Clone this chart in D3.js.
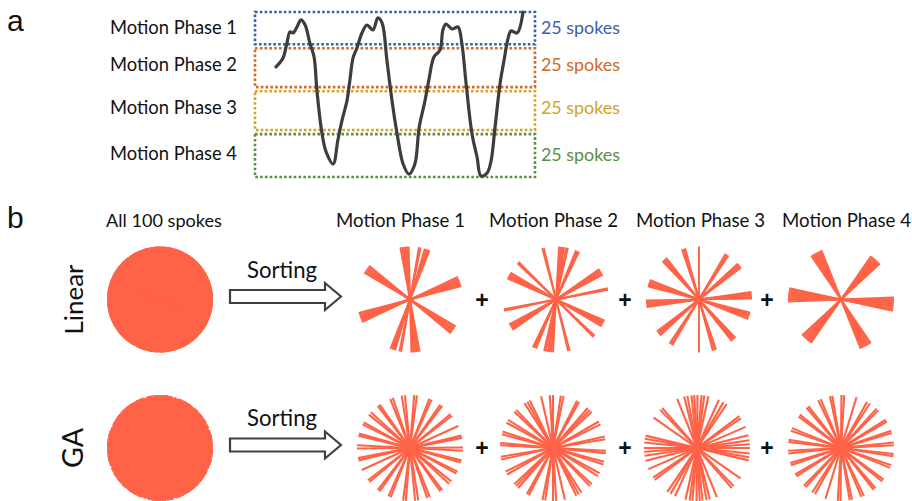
<!DOCTYPE html>
<html>
<head>
<meta charset="utf-8">
<script src="https://cdn.jsdelivr.net/npm/d3@7"></script>
<style>
  html, body { margin: 0; padding: 0; background: #fff; }
  svg { display: block; }
</style>
</head>
<body>
<svg id="fig" width="912" height="501"></svg>
<script>
// ---------- panel a: respiratory trace ----------
const traceTime = [0.75,1.00,1.14,1.25,1.36,1.50,1.64,1.79,1.96,2.11,2.21,2.39,2.54,2.79,2.96,3.11,3.29,3.39,3.50,3.64,3.82,4.00,4.21,4.39,4.54,4.71,4.89,5.07,5.29,5.50,5.71,5.86,6.07,6.21,6.39,6.61,6.71,6.82,7.04,7.25,7.39,7.54,7.75,7.93,8.07,8.29,8.43,8.57,8.75,8.89,9.04,9.14,9.36,9.57];
const traceDisp = [6.67,7.21,8.12,8.79,8.73,9.09,9.52,9.21,8.12,7.27,5.27,2.67,1.52,0.79,2.24,3.45,4.67,5.88,7.21,7.82,8.73,9.21,8.91,9.64,9.33,7.09,4.67,2.67,0.79,0.18,0.79,2.97,4.61,5.88,7.27,7.70,8.91,9.27,8.97,9.09,8.06,5.64,2.61,1.21,0.06,0.24,0.97,2.97,5.64,7.03,8.42,8.85,8.73,10.0];

const phaseNames = ["Motion Phase 1", "Motion Phase 2", "Motion Phase 3", "Motion Phase 4"];
const phaseUpper = [10, 7.8, 5.2, 2.6];
const phaseLower = [8.05, 5.45, 2.85, 0];
const phaseSpokeCounts = [25, 25, 25, 25];
const phaseColors = ["#3A5FAD", "#D2691F", "#D3A22A", "#5E8E3E"];

// ---------- panel b: spoke angles (degrees) per motion phase ----------
const linearPhase1 = [140.5,142.3,144.1,145.9,147.7,149.5, 14.6,16.4,18.2,20.0,21.8,23.6,25.4, 91.5,93.3,95.1,96.9,98.7,100.5, 68.3,70.1,71.9,73.7, 78.5,80.3];
const linearPhase2 = [81.3,83.1,84.9,86.7, 149.4,151.2,153.0,154.8,156.6, 135.0,136.8, 27.9,29.7,31.5,33.3,35.1, 10.6,12.4, 103.2,105.0, 64.2,66.0,67.8, 77.0,78.8];
const linearPhase3 = [0.9,2.7,4.5,6.3,8.1, 158.4,160.2,162.0,163.8,165.6, 37.3,39.1,40.9,42.7, 56.2,58.0,59.8, 90.0, 105.2,107.0,108.8, 128.3,130.1,131.9,133.7];
const linearPhase4 = [167.8,169.6,171.4,173.2,175.0,176.8,178.6,180.4,182.2, 42.7,44.5,46.3,48.1,49.9,51.7,53.5,55.3, 111.7,113.5,115.3,117.1,118.9,120.7,122.5,124.3];

const gaPhase1 = [177,180.5, 11,13.5, 24.5, 37.5,40, 52.5,55, 66,68.5, 82.5,85.5, 95.5,99, 109,112, 125,127.5, 137.5,141, 151,153.5, 164,166.5];
const gaPhase2 = [174.5,177, 162,165, 148,151.5, 134,137, 116,119,122.5, 103, 90,93.5, 78.5,81.5, 60.5,63, 43,46,49, 26.5,30, 9.5,12.5];
const gaPhase3 = [0,4,8.5,14,23.5, 34,37, 56,60,65.5, 77.5,82,85,89.5,93,96,100.5,104, 112, 131,134, 145, 166.5,170,174];
const gaPhase4 = [3,6, 16.5,19, 30,32.5, 45.5,48, 57,60.5, 73, 86.5,89.5, 99.5,102, 112.5,115.5, 128,130.5, 141,143.5, 158,161, 171,173.5];

const orderings = ["Linear", "GA"];
const linearPhases = [linearPhase1, linearPhase2, linearPhase3, linearPhase4];
const gaPhases = [gaPhase1, gaPhase2, gaPhase3, gaPhase4];
const allSpokesTitle = "All 100 spokes";
const sortLabel = "Sorting";

// ---------- layout ----------
const svg = d3.select("#fig");
const spokeColor = "#FF6347";
const lineFont = "Lato, 'Open Sans', sans-serif";

function fitWidth(sel, target) {
  const w = sel.node().getComputedTextLength();
  const fs = parseFloat(sel.attr("font-size"));
  sel.attr("font-size", (fs * target / w).toFixed(2));
  return sel;
}

// panel letters
svg.append("text").attr("x", 7).attr("y", 31).attr("font-family", "'Liberation Sans', Arial, sans-serif")
  .attr("font-size", 30).attr("fill", "#111").text("a");
svg.append("text").attr("x", 7).attr("y", 228).attr("font-family", "'Liberation Sans', Arial, sans-serif")
  .attr("font-size", 30).attr("fill", "#111").text("b");

// trace scales
const tx = d3.scaleLinear().domain([0, 10]).range([255, 535]);
const ty = d3.scaleLinear().domain([0, 10]).range([177, 12]);

const gA = svg.append("g");

// phase boxes
gA.selectAll("rect.phase").data(phaseNames).join("rect")
  .attr("class", "phase")
  .attr("x", tx(0))
  .attr("y", (d, i) => ty(phaseUpper[i]))
  .attr("width", tx(10) - tx(0))
  .attr("height", (d, i) => ty(phaseLower[i]) - ty(phaseUpper[i]))
  .attr("fill", "none")
  .attr("stroke", (d, i) => phaseColors[i])
  .attr("stroke-width", 2.6)
  .attr("stroke-dasharray", "2.6 2.2");

const labelBase = [34.3, 71, 114.3, 159.5];
gA.selectAll("text.pname").data(phaseNames).join("text")
  .attr("class", "pname")
  .attr("x", 110).attr("y", (d, i) => labelBase[i])
  .attr("font-family", lineFont).attr("font-size", 18).attr("fill", "#111")
  .text(d => d)
  .each(function () { fitWidth(d3.select(this), 127); });

gA.selectAll("text.pcount").data(phaseSpokeCounts).join("text")
  .attr("class", "pcount")
  .attr("x", 541).attr("y", (d, i) => labelBase[i] + (i === 3 ? 1 : 0))
  .attr("font-family", lineFont).attr("font-size", 18)
  .attr("fill", (d, i) => phaseColors[i])
  .text(d => d + " spokes")
  .each(function () { fitWidth(d3.select(this), 79); });

// breathing trace
const trace = traceTime.map((t, i) => [t, traceDisp[i]]);
gA.append("path")
  .attr("d", d3.line().x(d => tx(d[0])).y(d => ty(d[1])).curve(d3.curveCatmullRom.alpha(0.5))(trace))
  .attr("fill", "none")
  .attr("stroke", "#3d3d3d")
  .attr("stroke-width", 3.2)
  .attr("stroke-linejoin", "round")
  .attr("stroke-linecap", "round");

// ---------- panel b ----------
const gB = svg.append("g");
const rowY = [299.5, 448];
const allX = 160;
const phaseX = [[410, 556, 699, 841], [410, 553, 697, 841]];
const headerX = [336, 489, 636, 782];
const plusX = [482, 625, 767];

const angleScale = d3.scaleLinear().domain([0, 180]).range([0, Math.PI]);
const rScale = d3.scaleLinear().domain([0, 1]).range([0, 53]);

function drawSpokes(g, angles, cx, cy, reach, width) {
  g.selectAll(null).data(angles).join("line")
    .attr("x1", a => cx + rScale(reach) * Math.cos(angleScale(a)))
    .attr("y1", a => cy - rScale(reach) * Math.sin(angleScale(a)))
    .attr("x2", a => cx - rScale(reach) * Math.cos(angleScale(a)))
    .attr("y2", a => cy + rScale(reach) * Math.sin(angleScale(a)))
    .attr("stroke", spokeColor)
    .attr("stroke-width", width)
    .attr("stroke-linecap", "butt");
}

// headers
gB.append("text").attr("x", 106).attr("y", 227)
  .attr("font-family", lineFont).attr("font-size", 18).attr("fill", "#111")
  .text(allSpokesTitle).call(s => fitWidth(s, 116));
gB.selectAll("text.head").data(phaseNames).join("text")
  .attr("class", "head")
  .attr("x", (d, i) => headerX[i]).attr("y", 227)
  .attr("font-family", lineFont).attr("font-size", 18).attr("fill", "#111")
  .text(d => d)
  .each(function () { fitWidth(d3.select(this), 129); });

const rowPhases = [linearPhases, gaPhases];
const rowLabelWidth = [70, 40];

orderings.forEach((name, r) => {
  const cy = rowY[r];
  const g = gB.append("g");

  // row label
  g.append("text")
    .attr("transform", `translate(83,${cy}) rotate(-90)`)
    .attr("text-anchor", "middle")
    .attr("font-family", lineFont).attr("font-size", 26).attr("fill", "#111")
    .text(name).call(s => fitWidth(s, rowLabelWidth[r]));

  // all spokes: union of the four phases over a filled disc
  const allAngles = rowPhases[r].flat();
  g.append("circle").attr("cx", allX).attr("cy", cy)
    .attr("r", rScale(r === 0 ? 1 : 0.985)).attr("fill", spokeColor);
  drawSpokes(g.append("g"), allAngles, allX, cy, 1, r === 0 ? 2 : 2.6);

  // sorting arrow
  const ay = cy - 3;
  const arrow = d3.path();
  arrow.moveTo(230, ay - 6.5);
  arrow.lineTo(325, ay - 6.5);
  arrow.lineTo(325, ay - 13.5);
  arrow.lineTo(341, ay);
  arrow.lineTo(325, ay + 13.5);
  arrow.lineTo(325, ay + 6.5);
  arrow.lineTo(230, ay + 6.5);
  arrow.closePath();
  g.append("path").attr("d", arrow.toString())
    .attr("fill", "#fff").attr("stroke", "#404040").attr("stroke-width", 2.2)
    .attr("stroke-linejoin", "miter");
  g.append("text").attr("x", 247).attr("y", cy - 22)
    .attr("font-family", lineFont).attr("font-size", 20).attr("fill", "#111")
    .text(sortLabel).call(s => fitWidth(s, 70));

  // per-phase spokes
  rowPhases[r].forEach((angles, p) => {
    drawSpokes(g.append("g"), angles, phaseX[r][p], cy, 1, r === 0 ? 1.9 : 2.1);
  });

  // plus signs
  g.selectAll("text.plus").data(plusX).join("text")
    .attr("class", "plus")
    .attr("x", d => d).attr("y", cy + 8)
    .attr("text-anchor", "middle")
    .attr("font-family", "'Liberation Sans', Arial, sans-serif")
    .attr("font-weight", "bold").attr("font-size", 23).attr("fill", "#111")
    .text("+");
});
</script>
</body>
</html>
